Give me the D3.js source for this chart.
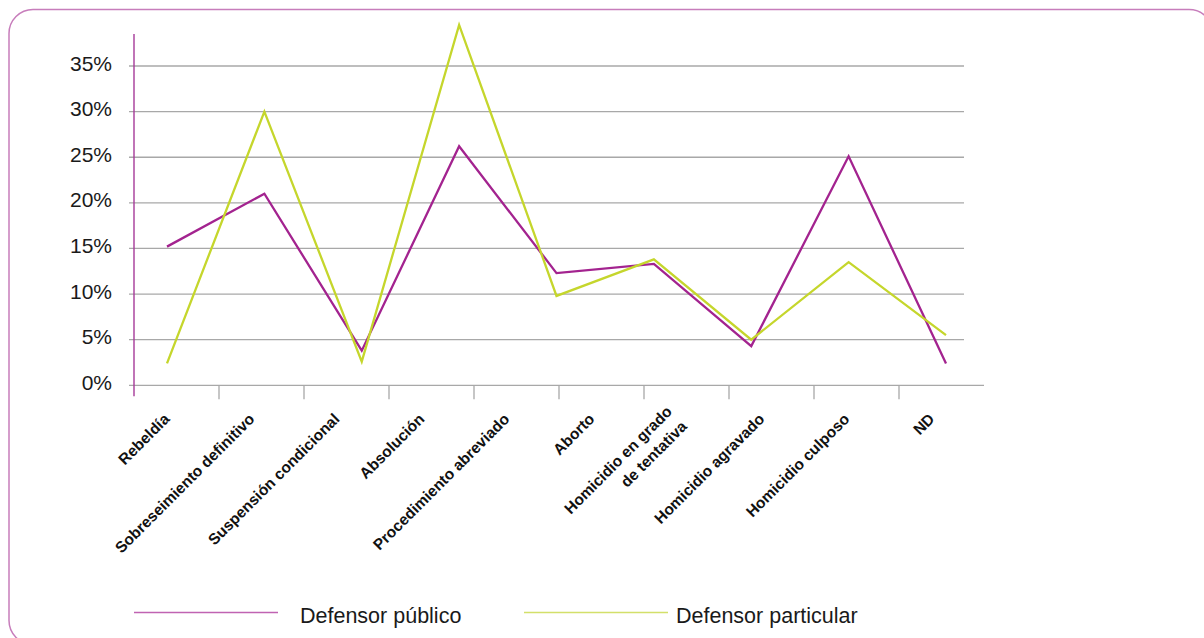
<!DOCTYPE html>
<html lang="es">
<head>
<meta charset="utf-8">
<script src="https://cdn.jsdelivr.net/npm/d3@7"></script>
<style>
  html, body { margin: 0; padding: 0; background: #ffffff; }
  svg { display: block; font-family: "Liberation Sans", Arial, Helvetica, sans-serif; }
</style>
</head>
<body>
<svg id="chart" width="1204" height="638"></svg>
<script>
// Categorías del eje horizontal
const categorias = [
  "Rebeldía",
  "Sobreseimiento definitivo",
  "Suspensión condicional",
  "Absolución",
  "Procedimiento abreviado",
  "Aborto",
  "Homicidio en grado\nde tentativa",
  "Homicidio agravado",
  "Homicidio culposo",
  "ND"
];

// Porcentajes por tipo de defensa (vértices de cada línea)
const defensorPublico    = [15.2, 21.0, 3.8, 26.2, 12.3, 13.3, 4.3, 25.1, 2.4];
const defensorParticular = [2.4, 30.0, 2.6, 39.5, 9.8, 13.8, 5.0, 13.5, 5.5];

// Marcas del eje vertical
const ticksY = [0, 5, 10, 15, 20, 25, 30, 35];

const series = [
  { nombre: "Defensor público",    valores: defensorPublico,    color: "#a3238f", leyenda: "#c063b2" },
  { nombre: "Defensor particular", valores: defensorParticular, color: "#c5d62c", leyenda: "#d3e06a" }
];

const svg = d3.select("#chart");

// Marco redondeado
svg.append("rect")
  .attr("x", 9).attr("y", 9.5)
  .attr("width", 1204).attr("height", 635)
  .attr("rx", 24).attr("ry", 24)
  .attr("fill", "none")
  .attr("stroke", "#c77dbb")
  .attr("stroke-width", 1.5);

const x0 = 134, x1 = 984;
const y = d3.scaleLinear().domain([0, 35]).range([385.3, 66]);
const xBand = d3.scaleBand().domain(categorias).range([x0, x1]);
const xPunto = d3.scalePoint().domain(d3.range(defensorPublico.length)).range([167, 946]);

// Líneas de cuadrícula
svg.append("g")
  .selectAll("line")
  .data(ticksY.filter(d => d > 0))
  .join("line")
  .attr("x1", 129).attr("x2", 964)
  .attr("y1", d => y(d)).attr("y2", d => y(d))
  .attr("stroke", "#a8a8a8")
  .attr("stroke-width", 1.3);

// Eje horizontal con marcas entre categorías
const ejeX = svg.append("g");
ejeX.append("line")
  .attr("x1", 129).attr("x2", x1)
  .attr("y1", y(0)).attr("y2", y(0))
  .attr("stroke", "#a8a8a8").attr("stroke-width", 1.3);
ejeX.selectAll("line.marca")
  .data(categorias.slice(1))
  .join("line")
  .attr("class", "marca")
  .attr("x1", d => xBand(d)).attr("x2", d => xBand(d))
  .attr("y1", y(0)).attr("y2", y(0) + 14)
  .attr("stroke", "#a8a8a8").attr("stroke-width", 1.3);

// Eje vertical
svg.append("line")
  .attr("x1", x0).attr("x2", x0)
  .attr("y1", y(38.5)).attr("y2", y(0) + 11)
  .attr("stroke", "#a53a99").attr("stroke-width", 1.4);

// Etiquetas del eje vertical
svg.append("g")
  .selectAll("text")
  .data(ticksY)
  .join("text")
  .attr("x", 112)
  .attr("y", d => y(d) + 4.5)
  .attr("text-anchor", "end")
  .attr("font-size", 21)
  .attr("fill", "#1a1a1a")
  .text(d => d + "%");

// Etiquetas de categorías, giradas 45°
const lineaAlto = 21;
const etiquetas = svg.append("g")
  .selectAll("text")
  .data(categorias)
  .join("text")
  .attr("transform", d => `translate(${xBand(d) + xBand.bandwidth() / 2 - 6},420) rotate(-45)`)
  .attr("text-anchor", "end")
  .attr("font-size", 15.5)
  .attr("font-weight", "bold")
  .attr("fill", "#111");
etiquetas.each(function(d) {
  const partes = d.split("\n");
  const t = d3.select(this);
  partes.forEach((p, i) => {
    t.append("tspan")
      .attr("x", 0)
      .attr("y", (i - (partes.length - 1) / 2) * lineaAlto)
      .text(p);
  });
});

// Líneas de datos
const linea = d3.line()
  .x((d, i) => xPunto(i))
  .y(d => y(d));

svg.append("g")
  .selectAll("path")
  .data(series)
  .join("path")
  .attr("d", s => linea(s.valores))
  .attr("fill", "none")
  .attr("stroke", s => s.color)
  .attr("stroke-width", 2.3)
  .attr("stroke-linejoin", "miter");

// Leyenda
const leyendaX = [134, 524];
const leyenda = svg.append("g")
  .selectAll("g")
  .data(series)
  .join("g")
  .attr("transform", (s, i) => `translate(${leyendaX[i]},612.5)`);
leyenda.append("line")
  .attr("x1", 0).attr("x2", 144)
  .attr("y1", 0).attr("y2", 0)
  .attr("stroke", s => s.leyenda)
  .attr("stroke-width", 1.4);
leyenda.append("text")
  .attr("x", (s, i) => i === 0 ? 166 : 152)
  .attr("y", 10.5)
  .attr("font-size", 21.5)
  .attr("fill", "#1a1a1a")
  .text(s => s.nombre);
</script>
</body>
</html>
